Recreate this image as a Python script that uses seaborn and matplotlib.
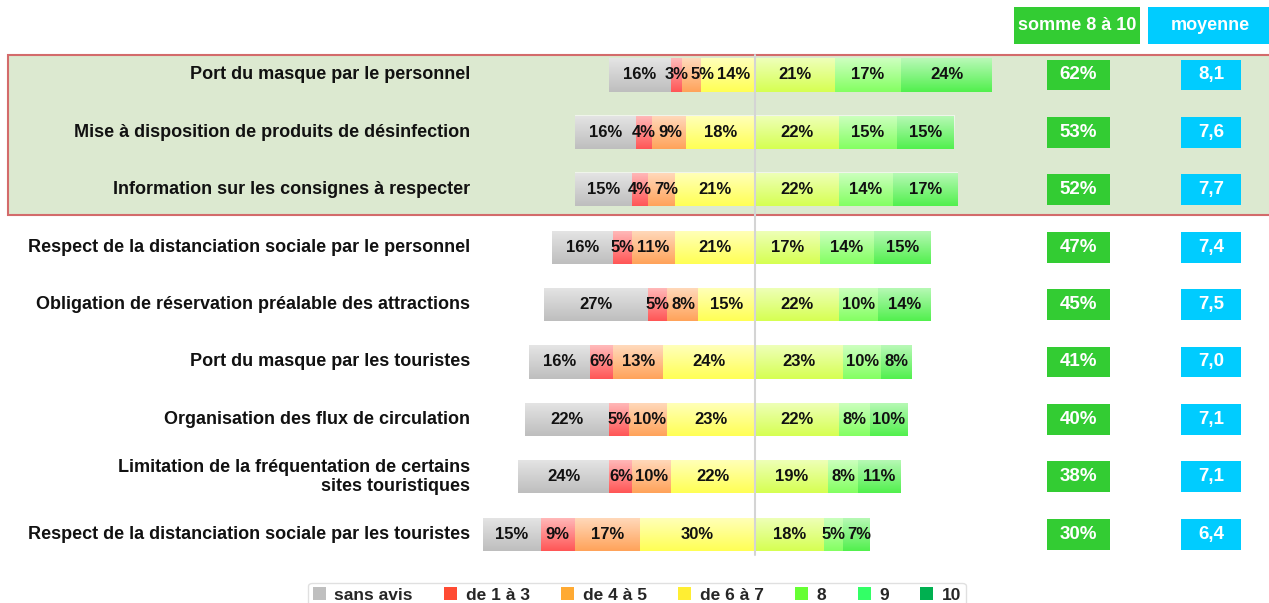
import numpy as np
import pandas as pd
import seaborn as sns
import matplotlib.pyplot as plt
from matplotlib.patches import Rectangle, Patch

items = [
    "Port du masque par le personnel",
    "Mise à disposition de produits de désinfection",
    "Information sur les consignes à respecter",
    "Respect de la distanciation sociale par le personnel",
    "Obligation de réservation préalable des attractions",
    "Port du masque par les touristes",
    "Organisation des flux de circulation",
    "Limitation de la fréquentation de certains\nsites touristiques",
    "Respect de la distanciation sociale par les touristes",
]
sans_avis = [16, 16, 15, 16, 27, 16, 22, 24, 15]
de1a3 = [3, 4, 4, 5, 5, 6, 5, 6, 9]
de4a5 = [5, 9, 7, 11, 8, 13, 10, 10, 17]
de6a7 = [14, 18, 21, 21, 15, 24, 23, 22, 30]
note8 = [21, 22, 22, 17, 22, 23, 22, 19, 18]
note9 = [17, 15, 14, 14, 10, 10, 8, 8, 5]
note10 = [24, 15, 17, 15, 14, 8, 10, 11, 7]
somme = [62, 53, 52, 47, 45, 41, 40, 38, 30]
moyenne = [8.1, 7.6, 7.7, 7.4, 7.5, 7.0, 7.1, 7.1, 6.4]

legend_names = ["sans avis", "de 1 à 3", "de 4 à 5", "de 6 à 7", "8", "9", "10"]
legend_cols = ["#bfbfbf", "#ff4b33", "#ffaa33", "#ffee33", "#66ff33", "#33ff66", "#00b050"]
bar_cols = ["#bebebe", "#ff5656", "#ffa35a", "#ffff55", "#d6ff52", "#84ff62", "#52f04e"]

sns.set_style("white")
plt.rcParams["font.family"] = ["Liberation Sans", "DejaVu Sans"]
plt.rcParams["font.weight"] = "bold"

W, H = 1269, 603
fig = plt.figure(figsize=(W / 100, H / 100), dpi=100)
ax = fig.add_axes([0, 0, 1, 1])

# pixel geometry of the reference: centre line at x=755, 3.83 px per %, rows 57.4 px apart
cx, ppx, y0, dy = 755, 3.83, 75, 57.4
def px_x(p):
    return (p - cx) / ppx
def px_y(p):
    return (p - y0) / dy

df = pd.DataFrame({"item": items, "sa": sans_avis, "r": de1a3, "o": de4a5, "y": de6a7,
                   "n8": note8, "n9": note9, "n10": note10})
bh = 0.58

# highlighted block for first three items
ax.add_patch(Rectangle((px_x(8), px_y(55)), px_x(1275) - px_x(8), px_y(215) - px_y(55),
                       facecolor="#dce9d0", edgecolor="#d36b6b", lw=1.5, zorder=0))

# left side stacked outward from centre (longest drawn first), right side likewise
left_tot = df.sa + df.r + df.o + df.y
right_tot = df.n8 + df.n9 + df.n10
stacks = [
    (-left_tot, bar_cols[0]),
    (-(df.r + df.o + df.y), bar_cols[1]),
    (-(df.o + df.y), bar_cols[2]),
    (-df.y, bar_cols[3]),
    (right_tot, bar_cols[6]),
    (df.n8 + df.n9, bar_cols[5]),
    (df.n8, bar_cols[4]),
]
for vals, col in stacks:
    sns.barplot(x=vals, y=df.item, orient="h", color=col, width=bh, saturation=1,
                linewidth=0, ax=ax, zorder=2)

# soft white sheen on top of each bar (lighter top, as in the original)
grad = np.zeros((64, 2, 4))
grad[..., :3] = 1.0
grad[..., 3] = np.linspace(0.6, 0.0, 64)[:, None]
for i in range(len(items)):
    ax.imshow(grad, extent=(-left_tot[i], right_tot[i], i + bh / 2, i - bh / 2),
              aspect="auto", interpolation="bilinear", zorder=2.5)

ax.plot([0, 0], [px_y(55), px_y(555)], color="#d4d4d4", lw=1.5, zorder=3)

em = 12 * 100 / 72
def label_w(s):
    return sum(0.889 if ch == "%" else 0.556 for ch in s) * em

# segment labels, centred but nudged right when they would collide
for i in range(len(items)):
    segs = [df.sa[i], df.r[i], df.o[i], df.y[i], df.n8[i], df.n9[i], df.n10[i]]
    edge = -left_tot[i]
    prev_right = -1e9
    for v in segs:
        s = f"{v}%"
        hw = label_w(s) / 2
        c = cx + (edge + v / 2) * ppx
        c = max(c, prev_right + 2 + hw)
        prev_right = c + hw
        ax.text(px_x(c), i, s, ha="center", va="center", fontsize=12,
                color="#111111", zorder=4)
        edge += v
    ax.text(px_x(470), i, items[i], ha="right", va="center", fontsize=13,
            color="#111111", linespacing=1.15, zorder=4)
    # summary boxes
    ax.add_patch(Rectangle((px_x(1047), i - 0.27), px_x(1110) - px_x(1047), 0.54,
                           facecolor="#33cc33", edgecolor="none", zorder=2))
    ax.text(px_x(1078), i, f"{somme[i]}%", ha="center", va="center", fontsize=13.5,
            color="white", zorder=4)
    ax.add_patch(Rectangle((px_x(1181), i - 0.27), px_x(1241) - px_x(1181), 0.54,
                           facecolor="#00ccff", edgecolor="none", zorder=2))
    ax.text(px_x(1211), i, f"{moyenne[i]:.1f}".replace(".", ","), ha="center",
            va="center", fontsize=13.5, color="white", zorder=4)

# column headers
ax.add_patch(Rectangle((px_x(1014), px_y(7)), px_x(1140) - px_x(1014), px_y(44) - px_y(7),
                       facecolor="#33cc33", edgecolor="none", zorder=2))
ax.text(px_x(1077), px_y(26), "somme 8 à 10", ha="center", va="center", fontsize=13,
        color="white", zorder=4)
ax.add_patch(Rectangle((px_x(1148), px_y(7)), px_x(1275) - px_x(1148), px_y(44) - px_y(7),
                       facecolor="#00ccff", edgecolor="none", zorder=2))
ax.text(px_x(1210), px_y(26), "moyenne", ha="center", va="center", fontsize=13,
        color="white", zorder=4)

ax.set_xlim(px_x(0), px_x(W))
ax.set_ylim(px_y(H), px_y(0))
ax.set_axis_off()

handles = [Patch(facecolor=c, edgecolor="none") for c in legend_cols]
leg = fig.legend(handles, legend_names, loc="upper center", ncol=7,
                 bbox_to_anchor=(637 / W, 1 - 583 / H), borderaxespad=0, frameon=True,
                 fontsize=12.5, handlelength=0.75, handleheight=0.75, handletextpad=0.5,
                 columnspacing=1.8, borderpad=0.25, fancybox=True)
leg.get_frame().set_edgecolor("#d9d9d9")
leg.get_frame().set_linewidth(1)

fig.savefig("out.png", dpi=100)
